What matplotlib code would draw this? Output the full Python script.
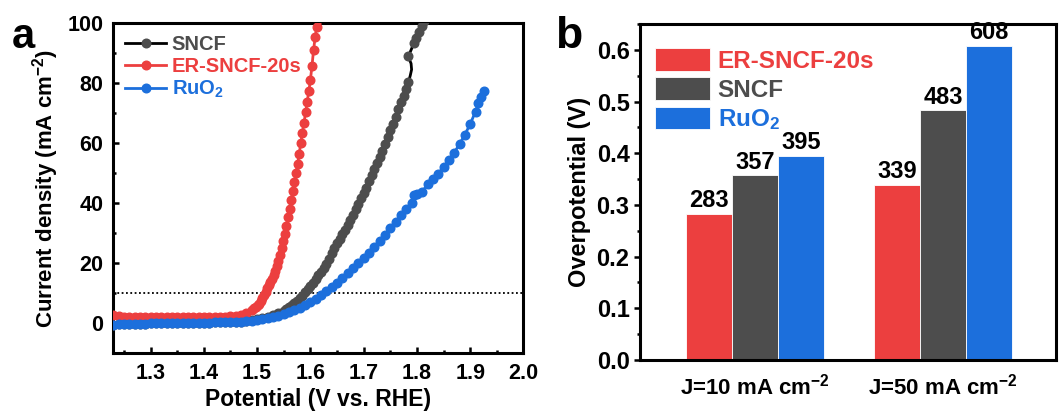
import numpy as np
import matplotlib
matplotlib.use('Agg')
import matplotlib.pyplot as plt
from matplotlib.ticker import MultipleLocator

plt.rcParams['font.family'] = ['Liberation Sans', 'DejaVu Sans']
plt.rcParams['font.weight'] = 'bold'
plt.rcParams['axes.labelweight'] = 'bold'
plt.rcParams['mathtext.fontset'] = 'custom'
plt.rcParams['mathtext.rm'] = 'Liberation Sans:bold'
plt.rcParams['mathtext.bf'] = 'Liberation Sans:bold'
plt.rcParams['mathtext.it'] = 'Liberation Sans:bold'
plt.rcParams['mathtext.default'] = 'rm'

# ---------------- data: panel a (LSV curves) ----------------
# ER-SNCF-20s
er_x = list(np.round(np.arange(1.23, 1.4901, 0.01), 4)) + list(np.round(np.arange(1.495, 1.6151, 0.003), 4))
er_y = [2.6, 2.3, 2.1, 2.0, 2.0, 1.9, 1.9, 1.9, 1.9, 1.9,
        1.9, 1.9, 1.9, 2.0, 2.0, 2.0, 2.0, 2.0, 2.1, 2.1,
        2.1, 2.1, 2.2, 2.5, 2.8, 3.3, 4.2,
        4.9, 5.4, 5.9, 6.5, 7.3, 8.3, 9.4, 10.5, 11.6, 12.6,
        13.6, 14.7, 15.9, 17.3, 18.9, 20.7, 22.7, 24.9, 27.3, 29.8,
        32.4, 35.2, 38.1, 41.0, 43.9, 46.9, 49.9, 53.1, 56.4, 60.0,
        63.4, 66.7, 70.2, 73.8, 77.2, 81.0, 85.8, 91.0, 95.5, 98.6,
        101.5]

# SNCF
sncf_x = (list(np.round(np.arange(1.23, 1.5401, 0.01), 4))
          + list(np.round(np.arange(1.55, 1.7801, 0.005), 4))
          + [1.784, 1.7875, 1.790, 1.789, 1.7855, 1.784, 1.789, 1.794, 1.799, 1.804, 1.809, 1.813])
sncf_y = [-0.6, -0.4, -0.3, -0.3, -0.2, -0.2, -0.2, -0.1, -0.1, -0.1,
          -0.1, 0.0, 0.0, 0.0, 0.0, 0.0, 0.1, 0.1, 0.1, 0.2,
          0.2, 0.3, 0.3, 0.4, 0.5, 0.7, 0.9, 1.2, 1.6, 2.1,
          2.7, 3.3,
          4.0, 4.6, 5.2, 5.9, 6.7, 7.5, 8.2, 9.0, 10.2, 11.3,
          12.4, 13.5, 14.7, 15.9, 17.1, 18.4, 19.8, 21.5, 23.3, 25.0,
          26.6, 28.1, 29.6, 31.1, 32.8, 34.5, 36.1, 38.0, 39.8, 41.6,
          43.3, 45.1, 47.3, 49.5, 51.5, 53.3, 55.2, 57.4, 59.8, 62.0,
          64.2, 66.3, 68.7, 71.3, 73.6, 75.8, 78.1,
          80.2, 82.5, 84.5, 86.5, 88.0, 89.0, 91.0, 93.2, 95.0, 97.0, 99.0, 100.8]
sncf_no_marker_x = [1.7875, 1.790, 1.789, 1.7855]

# RuO2
ruo2_x = (list(np.round(np.arange(1.23, 1.7901, 0.01), 4))
          + [1.795, 1.80, 1.81, 1.82, 1.83, 1.84, 1.85, 1.86, 1.87, 1.88, 1.89, 1.90, 1.91, 1.915, 1.92, 1.925])
ruo2_y = [-0.5, -0.4, -0.3, -0.3, -0.2, -0.2, -0.2, -0.1, -0.1, -0.1,
          -0.1, 0.0, 0.0, 0.0, 0.0, 0.0, 0.1, 0.1, 0.1, 0.2,
          0.2, 0.3, 0.3, 0.4, 0.5, 0.6, 0.8, 0.9, 1.2, 1.6,
          2.0, 2.5, 3.0, 3.6, 4.3, 5.1, 6.0, 7.0, 8.0, 9.2,
          10.6, 12.0, 13.5, 15.0, 16.6, 18.2, 19.9, 21.6, 23.3, 25.2,
          27.3, 29.4, 31.6, 33.8, 36.0, 38.0, 39.9,
          42.8, 43.1, 43.8, 46.2, 48.0, 49.8, 52.0, 54.3, 56.8, 59.6,
          62.8, 66.3, 70.5, 73.2, 75.2, 77.2]

ref_current = 10  # dotted reference line (mA cm-2)

# ---------------- data: panel b (overpotentials, mV) ----------------
groups = ['J=10 mA cm$^{-2}$', 'J=50 mA cm$^{-2}$']
eta_er = [283, 339]
eta_sncf = [357, 483]
eta_ruo2 = [395, 608]

RED = '#EC3F3F'
GREY = '#4D4D4D'
BLUE = '#1C6FDC'

fig = plt.figure(figsize=(10.59, 4.16), dpi=100)

# ---------------- panel a ----------------
axa = fig.add_axes([0.107, 0.1514, 0.3873, 0.7933])
ms = 6.2
lw = 2.0
mk_idx = [i for i, x in enumerate(sncf_x) if not (i > 70 and x in sncf_no_marker_x)]
axa.plot(sncf_x, sncf_y, '-', color='black', lw=lw, marker='o', ms=ms,
         mfc=GREY, mec=GREY, markevery=mk_idx, label='SNCF', zorder=3)
axa.plot(er_x, er_y, '-', color=RED, lw=lw, marker='o', ms=ms,
         mfc=RED, mec=RED, label='ER-SNCF-20s', zorder=4)
axa.plot(ruo2_x, ruo2_y, '-', color=BLUE, lw=lw, marker='o', ms=ms,
         mfc=BLUE, mec=BLUE, label='RuO$_2$', zorder=5)
axa.axhline(ref_current, color='black', ls=(0, (1, 1.4)), lw=1.3, zorder=2)

axa.set_xlim(1.23, 2.0)
axa.set_ylim(-10, 100)
axa.xaxis.set_major_locator(MultipleLocator(0.1))
axa.xaxis.set_minor_locator(MultipleLocator(0.05))
axa.yaxis.set_major_locator(MultipleLocator(20))
axa.yaxis.set_minor_locator(MultipleLocator(10))
axa.tick_params(which='both', direction='in', width=1.8, labelsize=15.5, top=False, right=False)
axa.tick_params(which='major', length=4.5, pad=7)
axa.tick_params(which='minor', length=2.5)
axa.set_xticks([1.3, 1.4, 1.5, 1.6, 1.7, 1.8, 1.9, 2.0])
axa.set_xticklabels(['1.3', '1.4', '1.5', '1.6', '1.7', '1.8', '1.9', '2.0'])
for s in axa.spines.values():
    s.set_linewidth(2.2)
axa.set_xlabel('Potential (V vs. RHE)', fontsize=16.5, labelpad=3)
axa.set_ylabel('Current density (mA cm$^{-2}$)', fontsize=16, labelpad=5)

leg = axa.legend(loc='upper left', frameon=False, fontsize=14.5, handlelength=2.0,
                 handletextpad=0.3, labelspacing=0.15, borderaxespad=0.3,
                 borderpad=0.3)
for t, c in zip(leg.get_texts(), [GREY, RED, BLUE]):
    t.set_color(c)
fig.text(0.022, 0.912, 'a', fontsize=30, fontweight='bold', ha='center', va='center')

# ---------------- panel b ----------------
axb = fig.add_axes([0.6043, 0.1346, 0.3929, 0.8077])
xpos = np.arange(len(groups))
w = 0.245
b1 = axb.bar(xpos - w, np.array(eta_er) / 1000, w, color=RED, edgecolor='white', lw=0.6, label='ER-SNCF-20s')
b2 = axb.bar(xpos, np.array(eta_sncf) / 1000, w, color=GREY, edgecolor='white', lw=0.6, label='SNCF')
b3 = axb.bar(xpos + w, np.array(eta_ruo2) / 1000, w, color=BLUE, edgecolor='white', lw=0.6, label='RuO$_2$')
for bars, vals in [(b1, eta_er), (b2, eta_sncf), (b3, eta_ruo2)]:
    axb.bar_label(bars, labels=[str(v) for v in vals], padding=1, fontsize=17, fontweight='bold')

axb.set_xlim(-0.61, 1.6)
axb.set_ylim(0, 0.65)
axb.set_xticks(xpos)
axb.set_xticklabels(groups)
axb.yaxis.set_major_locator(MultipleLocator(0.1))
axb.yaxis.set_minor_locator(MultipleLocator(0.05))
axb.tick_params(axis='x', length=0, labelsize=16, pad=10)
axb.tick_params(axis='y', which='both', direction='out', width=1.8, labelsize=17)
axb.tick_params(axis='y', which='major', length=4.5, pad=3)
axb.tick_params(axis='y', which='minor', length=2.5)
for s in axb.spines.values():
    s.set_linewidth(2.2)
axb.set_ylabel('Overpotential (V)', fontsize=17, labelpad=4)

legb = axb.legend(loc='upper left', bbox_to_anchor=(0.0, 0.972), frameon=False,
                  fontsize=17.5, handlelength=2.3, handleheight=1.05,
                  handletextpad=0.3, labelspacing=0.2,
                  borderaxespad=0.3, borderpad=0.3)
for t, c in zip(legb.get_texts(), [RED, GREY, BLUE]):
    t.set_color(c)
fig.text(0.537, 0.912, 'b', fontsize=32, fontweight='bold', ha='center', va='center')

fig.savefig('out.png', dpi=100)
